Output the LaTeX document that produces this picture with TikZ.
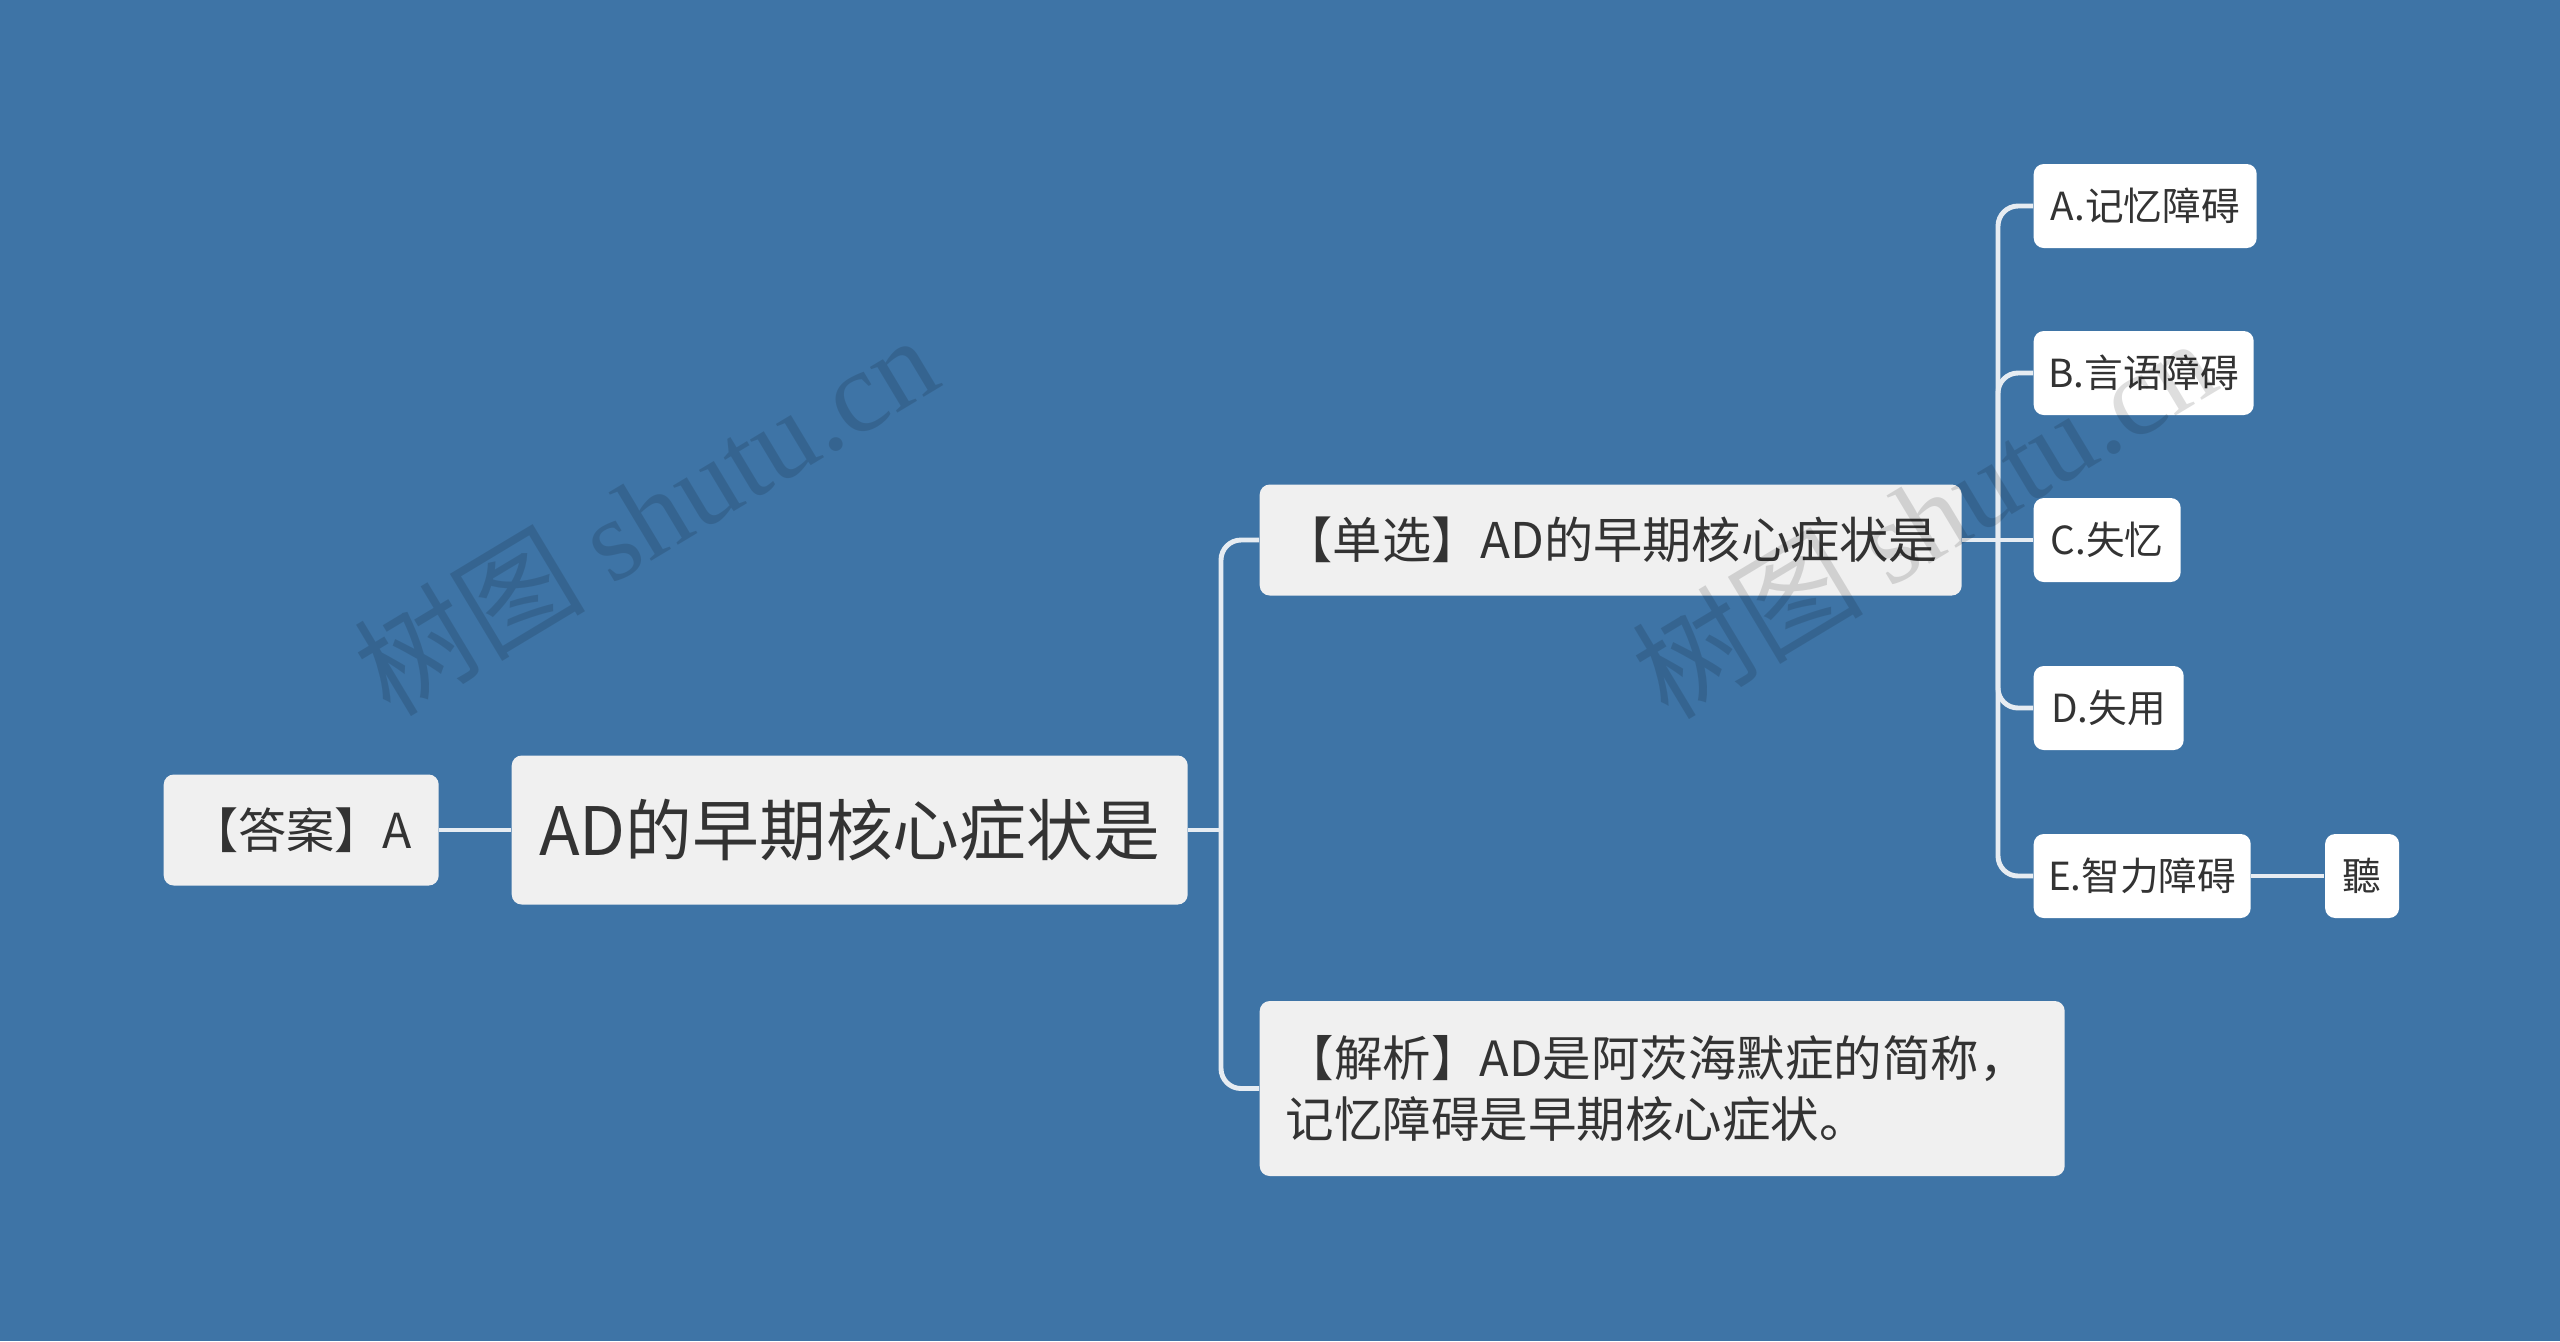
\documentclass[tikz,border=0pt]{standalone}
\usepackage{fontspec}
\setmainfont{Noto Sans CJK SC}
\newfontfamily\wmserif{Liberation Serif}
\usepackage{xcolor}
\usetikzlibrary{positioning}
\definecolor{bgblue}{HTML}{3E74A6}
\definecolor{boxgray}{HTML}{F0F0F0}
\definecolor{txtgray}{HTML}{333333}
\definecolor{linegray}{HTML}{E6ECF2}
\tikzset{
    base/.style={rounded corners=1mm, text=txtgray, inner sep=0pt, anchor=west},
    topic/.style={base, fill=boxgray},
    leaf/.style={base, fill=white, minimum height=0.84cm, font=\fontsize{11pt}{13pt}\selectfont},
    line/.style={draw=linegray, line width=1.4pt, rounded corners=0.2cm},
    wmark/.style={text=black, text opacity=0.13, rotate=31, font=\fontsize{33pt}{38pt}\selectfont}
}
\begin{document}
\begin{tikzpicture}
    \fill [bgblue] (0,0) rectangle (25.6,-13.41);
    \node [topic, minimum width=6.76cm, minimum height=1.49cm, font=\fontsize{19pt}{23pt}\selectfont] (Root) at (5.11,-8.30) {AD的早期核心症状是};
    \node [topic, minimum width=2.75cm, minimum height=1.11cm, font=\fontsize{13.7pt}{16pt}\selectfont] (Answer) at (1.63,-8.30) {【答案】A};
    \node [topic, minimum width=7.02cm, minimum height=1.11cm, font=\fontsize{14pt}{16pt}\selectfont] (Single) at (12.59,-5.40) {【单选】AD的早期核心症状是};
    \node [topic, inner xsep=0.26cm, minimum height=1.75cm, text width=7.53cm, align=left, font=\fontsize{13.8pt}{17.6pt}\selectfont] (Analysis) at (12.59,-10.885) {【解析】AD是阿茨海默症的简称，\\记忆障碍是早期核心症状。};
    \node [leaf, minimum width=2.23cm] (OptA) at (20.33,-2.06) {A.记忆障碍};
    \node [leaf, minimum width=2.20cm] (OptB) at (20.33,-3.73) {B.言语障碍};
    \node [leaf, minimum width=1.47cm] (OptC) at (20.33,-5.40) {C.失忆};
    \node [leaf, minimum width=1.50cm] (OptD) at (20.33,-7.08) {D.失用};
    \node [leaf, minimum width=2.17cm] (OptE) at (20.33,-8.76) {E.智力障碍};
    \node [leaf, minimum width=0.74cm, right=0.73cm of OptE] (Ting) {聽};
    \coordinate (J1) at (12.21,-8.30);
    \coordinate (J2) at (19.98,-5.40);
    \draw [line] (Answer) -- (Root);
    \draw [line] (Root) -- (J1);
    \draw [line] (J1) |- (Single);
    \draw [line] (J1) |- (Analysis);
    \draw [line] (Single) -- (OptC);
    \foreach \opt in {OptA, OptB, OptD, OptE}
        \draw [line] (J2) |- (\opt);
    \draw [line] (OptE) -- (Ting);
    \node [wmark] (Wm1) at (6.45,-5.14) {树图 {\wmserif shutu.cn}};
    \node [wmark] (Wm2) at (19.23,-5.17) {树图 {\wmserif shutu.cn}};
\end{tikzpicture}
\end{document}
